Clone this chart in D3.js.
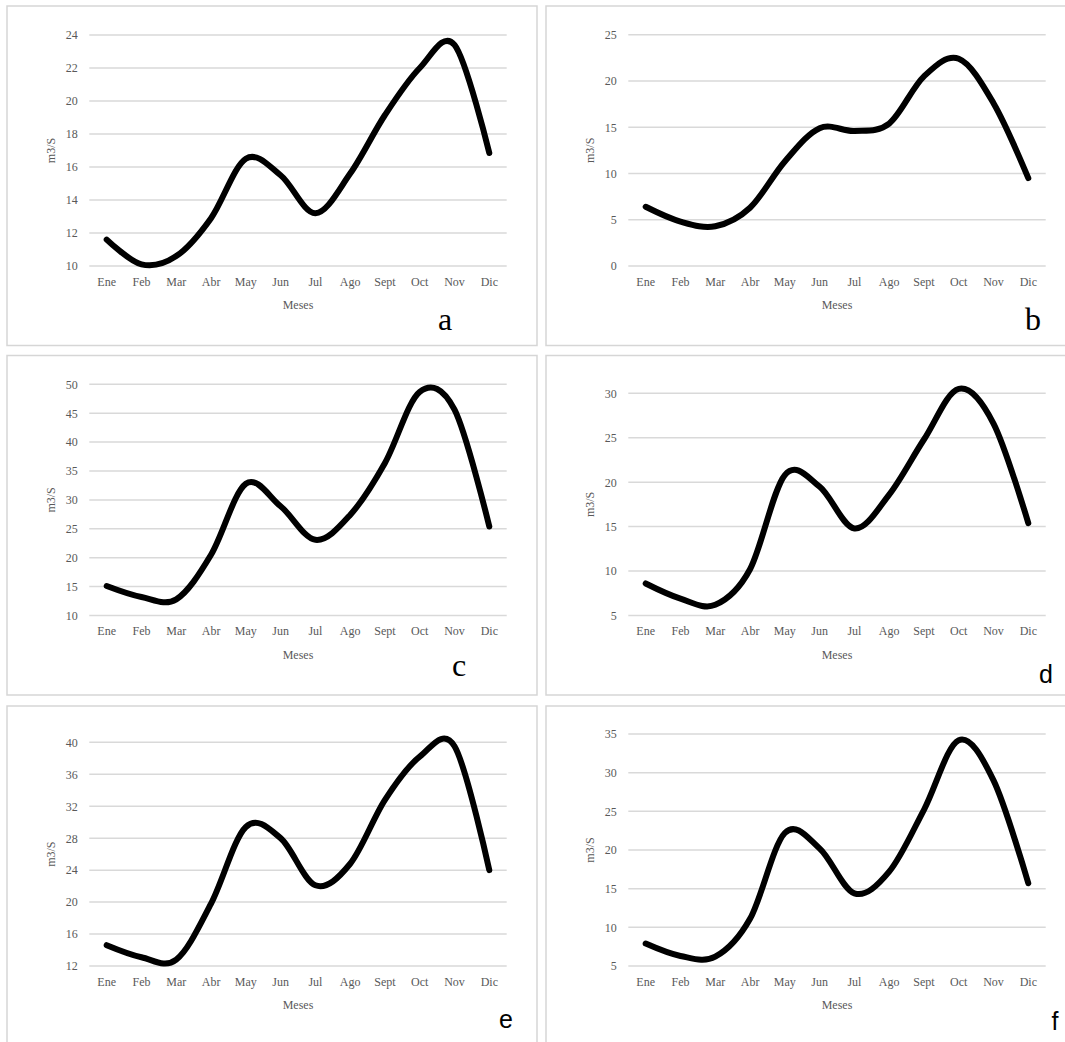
<!DOCTYPE html>
<html>
<head>
<meta charset="utf-8">
<script src="https://cdn.jsdelivr.net/npm/d3@7"></script>
<style>
  html, body { margin: 0; padding: 0; background: #fff; }
  svg { display: block; }
</style>
</head>
<body>
<svg id="chart" width="1065" height="1042"></svg>
<script>
// ---- Data ----
const months = ["Ene","Feb","Mar","Abr","May","Jun","Jul","Ago","Sept","Oct","Nov","Dic"];

const valuesA = [11.6, 10.1, 10.6, 12.9, 16.5, 15.5, 13.2, 15.6, 19.15, 22.0, 23.4, 16.85];
const valuesB = [6.4, 4.8, 4.3, 6.3, 11.3, 14.9, 14.6, 15.4, 20.5, 22.4, 17.6, 9.5];
const valuesC = [15.1, 13.2, 12.8, 20.5, 32.8, 28.9, 23.1, 27.4, 36.4, 48.7, 45.6, 25.4];
const valuesD = [8.6, 6.9, 6.2, 10.2, 20.8, 19.5, 14.8, 18.6, 24.8, 30.5, 26.6, 15.4];
const valuesE = [14.6, 13.1, 12.8, 19.8, 29.4, 28.0, 22.1, 24.8, 32.8, 38.2, 39.5, 24.0];
const valuesF = [7.9, 6.3, 6.2, 11.1, 22.2, 20.2, 14.4, 17.2, 25.2, 34.2, 29.0, 15.7];

const ticksA = [10, 12, 14, 16, 18, 20, 22, 24];
const ticksB = [0, 5, 10, 15, 20, 25];
const ticksC = [10, 15, 20, 25, 30, 35, 40, 45, 50];
const ticksD = [5, 10, 15, 20, 25, 30];
const ticksE = [12, 16, 20, 24, 28, 32, 36, 40];
const ticksF = [5, 10, 15, 20, 25, 30, 35];

const panelLetters = ["a", "b", "c", "d", "e", "f"];
const xTitle = "Meses";
const yTitle = "m3/S";

// ---- Layout (presentation only) ----
const panels = [
  { values: valuesA, ticks: ticksA, letter: panelLetters[0], fx: 7,   fy: 6,     top: 29,   serif: true,  lx: 438, ly: 324 },
  { values: valuesB, ticks: ticksB, letter: panelLetters[1], fx: 546, fy: 6,     top: 28.7, serif: true,  lx: 487, ly: 324 },
  { values: valuesC, ticks: ticksC, letter: panelLetters[2], fx: 7,   fy: 355.5, top: 28.8, serif: true,  lx: 452, ly: 320.5 },
  { values: valuesD, ticks: ticksD, letter: panelLetters[3], fx: 546, fy: 355.5, top: 37.8, serif: false, lx: 500, ly: 327.8 },
  { values: valuesE, ticks: ticksE, letter: panelLetters[4], fx: 7,   fy: 706,   top: 36.3, serif: false, lx: 499, ly: 322 },
  { values: valuesF, ticks: ticksF, letter: panelLetters[5], fx: 546, fy: 706,   top: 28,   serif: false, lx: 509, ly: 324 }
];

const frameW = 530, frameH = 339.5;
const plotL = 82.3, plotW = 417.4, plotB = 260;
const textGray = "#595959";
const gridColor = "#d9d9d9";
const serifFont = "'Liberation Serif', 'Times New Roman', serif";
const sansFont = "'Liberation Sans', Arial, sans-serif";

const svg = d3.select("#chart");

panels.forEach(p => {
  const g = svg.append("g").attr("transform", `translate(${p.fx},${p.fy})`);

  // frame
  g.append("rect")
    .attr("x", 0).attr("y", 0)
    .attr("width", frameW).attr("height", frameH)
    .attr("fill", "#fff")
    .attr("stroke", "#d6d6d6")
    .attr("stroke-width", 1.5);

  const x = d3.scaleBand().domain(months).range([plotL, plotL + plotW]);
  const y = d3.scaleLinear()
    .domain([p.ticks[0], p.ticks[p.ticks.length - 1]])
    .range([plotB, p.top]);

  // gridlines
  g.append("g").selectAll("line").data(p.ticks).join("line")
    .attr("x1", plotL).attr("x2", plotL + plotW)
    .attr("y1", d => y(d)).attr("y2", d => y(d))
    .attr("stroke", gridColor).attr("stroke-width", 1.5);

  // y axis (labels only)
  const yAxis = g.append("g")
    .attr("transform", `translate(${plotL},0)`)
    .call(d3.axisLeft(y).tickValues(p.ticks).tickSize(0).tickPadding(11.5).tickFormat(d3.format("d")));
  yAxis.select(".domain").remove();
  yAxis.selectAll("text")
    .attr("fill", textGray)
    .style("font-family", serifFont)
    .style("font-size", "12px");

  // x axis (labels only)
  const xAxis = g.append("g")
    .attr("transform", `translate(0,${plotB})`)
    .call(d3.axisBottom(x).tickSize(0).tickPadding(11));
  xAxis.select(".domain").remove();
  xAxis.selectAll("text")
    .attr("fill", textGray)
    .style("font-family", serifFont)
    .style("font-size", "12px");

  // axis titles
  g.append("text")
    .attr("x", plotL + plotW / 2)
    .attr("y", plotB + 43)
    .attr("text-anchor", "middle")
    .attr("fill", textGray)
    .style("font-family", serifFont)
    .style("font-size", "12px")
    .text(xTitle);

  g.append("text")
    .attr("transform", `translate(${plotL - 34.5},${(plotB + p.top) / 2}) rotate(-90)`)
    .attr("text-anchor", "middle")
    .attr("fill", textGray)
    .style("font-family", serifFont)
    .style("font-size", "12px")
    .text(yTitle);

  // smoothed line
  const line = d3.line()
    .x((d, i) => x(months[i]) + x.bandwidth() / 2)
    .y(d => y(d))
    .curve(d3.curveCardinal.tension(0));

  g.append("path")
    .datum(p.values)
    .attr("d", line)
    .attr("fill", "none")
    .attr("stroke", "#000")
    .attr("stroke-width", 6)
    .attr("stroke-linecap", "round")
    .attr("stroke-linejoin", "round");

  // panel letter
  g.append("text")
    .attr("x", p.lx)
    .attr("y", p.ly)
    .attr("text-anchor", "middle")
    .attr("fill", "#000")
    .style("font-family", p.serif ? serifFont : sansFont)
    .style("font-size", p.serif ? "32px" : "25px")
    .text(p.letter);
});
</script>
</body>
</html>
